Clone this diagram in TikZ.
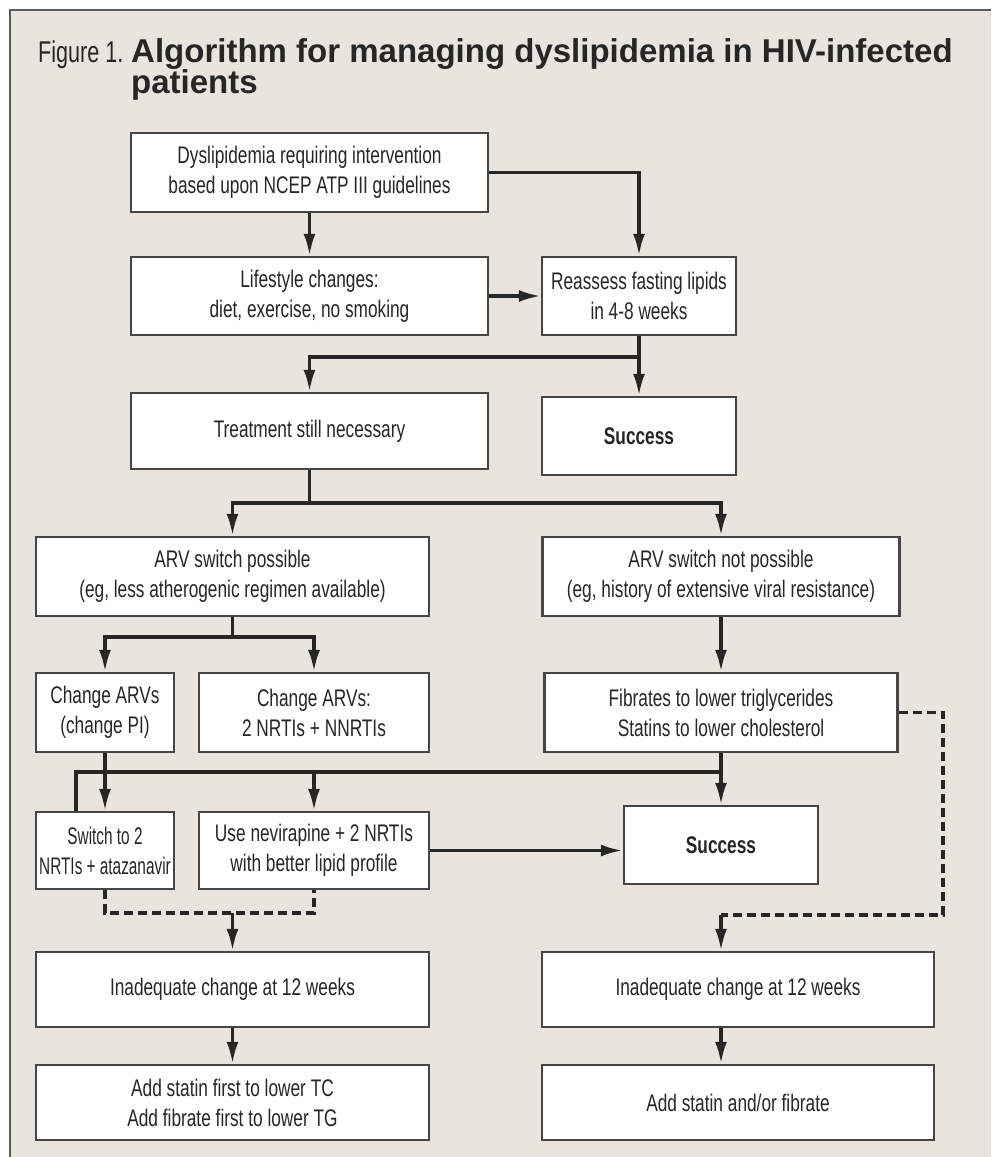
\documentclass[tikz,border=0pt]{standalone}
\usepackage{fontspec}
\setmainfont{Liberation Sans}
\newfontfamily\cond[FakeStretch=0.72]{Liberation Sans}
\newfontfamily\condn[FakeStretch=0.64]{Liberation Sans}
\usetikzlibrary{arrows.meta}
\definecolor{panel}{RGB}{233,228,221}
\definecolor{ink}{RGB}{38,38,38}
\definecolor{edge}{RGB}{70,70,70}
\definecolor{frame}{RGB}{90,90,90}
\begin{document}
\begin{tikzpicture}[x=1pt,y=-1pt,
  box/.style={draw=edge, fill=white, line width=2.4pt, inner sep=0pt, align=center,
              font=\cond\fontsize{24}{30}\selectfont, text=ink},
  conn/.style={draw=ink, line width=3.4pt},
  arr/.style={conn, -{Latex[length=22pt,width=12pt]}},
  dsh/.style={conn, dash pattern=on 9pt off 5pt}]
\useasboundingbox (0,0) rectangle (991,1157);
\fill[white] (0,0) rectangle (991,1157);
\fill[panel] (10,10) rectangle (991,1157);
\draw[frame, line width=1.6pt] (10,1157) -- (10,10) -- (991,10);

% title
\node[anchor=base west, inner sep=0pt, text=ink, font=\cond\fontsize{30}{30}\selectfont] (fig) at (38,62) {Figure 1.};
\node[anchor=base west, inner sep=0pt, text=ink, font=\bfseries\fontsize{33}{31}\selectfont] (t1) at (131,62) {Algorithm for managing dyslipidemia in HIV-infected};
\node[anchor=base west, inner sep=0pt, text=ink, font=\bfseries\fontsize{33}{31}\selectfont] (t2) at (131,93) {patients};

% boxes
\node[box, minimum width=357pt, minimum height=79pt] (dys) at (309.5,172.5) {Dyslipidemia requiring intervention\\based upon NCEP ATP III guidelines};
\node[box, minimum width=357pt, minimum height=78pt] (life) at (309.5,296) {Lifestyle changes:\\diet, exercise, no smoking};
\node[box, minimum width=194pt, minimum height=78pt] (reas) at (639,296) {Reassess fasting lipids\\in 4-8 weeks};
\node[box, minimum width=357pt, minimum height=76pt] (treat) at (309.5,431) {Treatment still necessary};
\node[box, minimum width=194pt, minimum height=78pt] (succ1) at (639,436) {\bfseries Success};
\node[box, minimum width=393pt, minimum height=79pt] (arvp) at (232.5,576.5) {ARV switch possible\\(eg, less atherogenic regimen available)};
\node[box, minimum width=357pt, minimum height=79pt] (arvn) at (721,576.5) {ARV switch not possible\\(eg, history of extensive viral resistance)};
\node[box, minimum width=138pt, minimum height=79pt] (chpi) at (105,712.5) {Change ARVs\\(change PI)};
\node[box, minimum width=230pt, minimum height=79pt] (chnn) at (314,712.5) {Change ARVs:\\2 NRTIs + NNRTIs};
\node[box, minimum width=353pt, minimum height=79pt] (fib) at (721,712.5) {Fibrates to lower triglycerides\\Statins to lower cholesterol};
\node[box, minimum width=138pt, minimum height=77pt, font=\condn\fontsize{24}{30}\selectfont] (sw) at (105,850.5) {Switch to 2\\NRTIs + atazanavir};
\node[box, minimum width=230pt, minimum height=77pt] (nev) at (314,850.5) {Use nevirapine + 2 NRTIs\\with better lipid profile};
\node[box, minimum width=194pt, minimum height=78pt] (succ2) at (721,845) {\bfseries Success};
\node[box, minimum width=393pt, minimum height=75pt] (inL) at (232.5,989.5) {Inadequate change at 12 weeks};
\node[box, minimum width=392pt, minimum height=75pt] (inR) at (738,989.5) {Inadequate change at 12 weeks};
\node[box, minimum width=393pt, minimum height=75pt] (addL) at (232.5,1102.5) {Add statin first to lower TC\\Add fibrate first to lower TG};
\node[box, minimum width=392pt, minimum height=75pt] (addR) at (738,1102.5) {Add statin and/or fibrate};

% junction coordinates
\coordinate (j1) at (639,357);
\coordinate (j2) at (309.5,503);
\coordinate (j3) at (232.5,637);
\coordinate (h1) at (721,772);
\coordinate (h2) at (76,772);
\coordinate (c1) at (943,915);
\coordinate (c2) at (721,915);
\coordinate (d1) at (232.5,913);

% connectors
\draw[arr] (dys) -- (life);
\draw[arr] (dys.east) -| (reas.north);
\draw[arr] (life) -- (reas);
\draw[conn] (reas.south) -- (j1);
\draw[arr] (j1) -| (treat.north);
\draw[arr] (j1) -- (succ1.north);
\draw[conn] (treat.south) -- (j2);
\draw[arr] (j2) -| (arvp.north);
\draw[arr] (j2) -| (arvn.north);
\draw[conn] (arvp.south) -- (j3);
\draw[arr] (j3) -| (chpi.north);
\draw[arr] (j3) -| (chnn.north);
\draw[arr] (arvn) -- (fib);
\draw[conn] (fib.south) -- (h1);
\draw[arr] (h1) -- (succ2.north);
\draw[conn] (h1) -- (h2) -- (h2 |- sw.north);
\draw[arr] (h2 -| nev.north) -- (nev.north);
\draw[arr] (chpi) -- (sw);
\draw[arr] (nev.east) -- (nev.east -| succ2.west);
\draw[dsh] (sw.south) |- (nev.south |- d1) -- (nev.south);
\draw[arr] (d1) -- (inL.north);
\draw[dsh] (fib.east) -| (c1) -- (c2);
\draw[arr] (c2) -- (c2 |- inR.north);
\draw[arr] (inL) -- (addL);
\draw[arr] (inR.south -| c2) -- (addR.north -| c2);
\end{tikzpicture}
\end{document}
